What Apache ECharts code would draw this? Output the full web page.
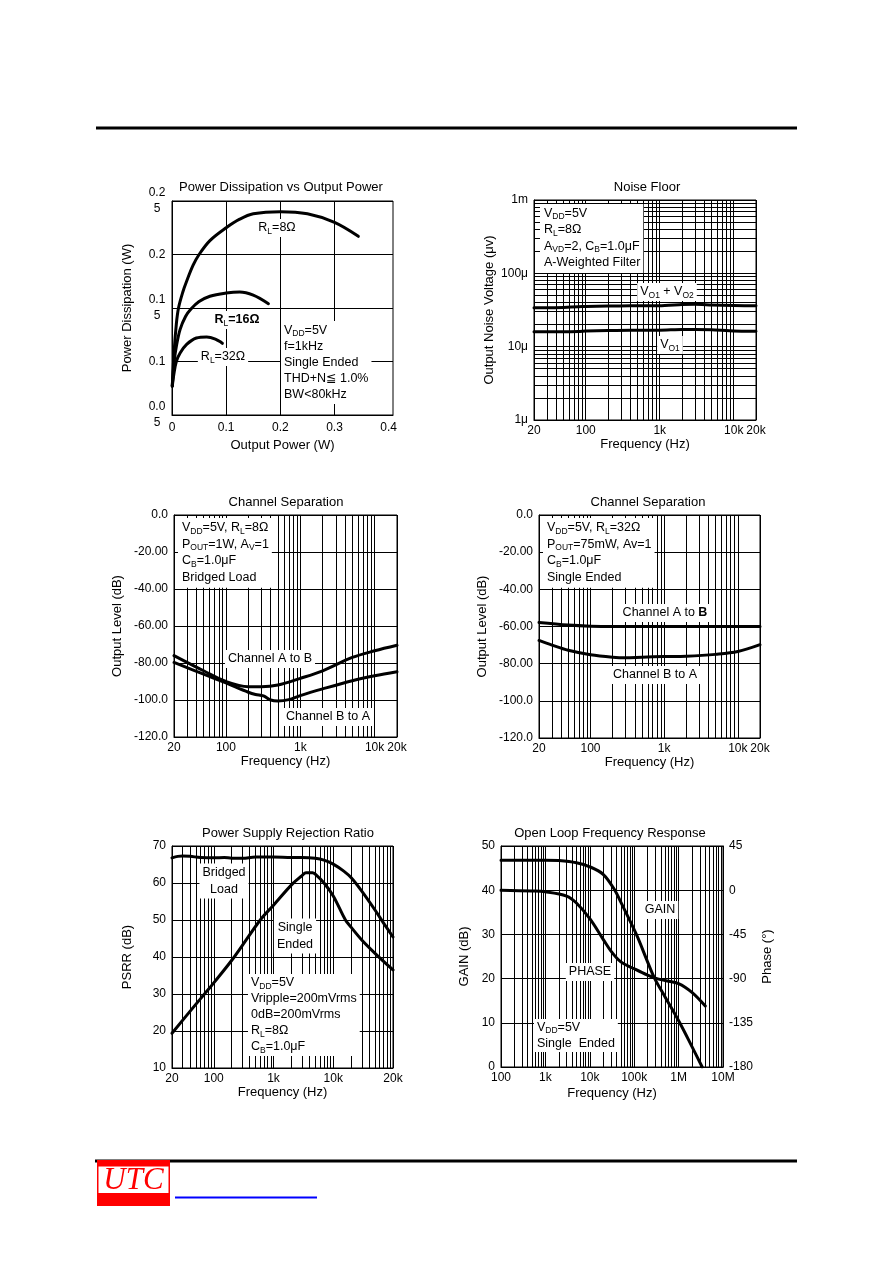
<!DOCTYPE html>
<html><head><meta charset="utf-8">
<script src="https://cdn.jsdelivr.net/npm/echarts@6.0.0/dist/echarts.min.js"></script>
<style>html,body{margin:0;padding:0;background:#fff}#c{width:892px;height:1263px}</style>
</head><body><div id="c"></div>
<script>
// ---------------- DATA ----------------
// Power Dissipation vs Output Power
const pdXTicks = [0, 0.1, 0.2, 0.3, 0.4];
const pdXTickLabels = ['0', '0.1', '0.2', '0.3', '0.4'];
const pdYTicks = [0.05, 0.1, 0.15, 0.2, 0.25];
const pdYTickLabels = ['0.0\n5', '0.1', '0.1\n5', '0.2', '0.2\n5'];
const pd8Power  = [0.0005, 0.004, 0.008, 0.012, 0.02, 0.027, 0.039, 0.05, 0.07, 0.1, 0.125, 0.15, 0.2, 0.25, 0.3, 0.344];
const pd8Diss   = [0.077, 0.11, 0.135, 0.15, 0.165, 0.175, 0.19, 0.2, 0.213, 0.225, 0.233, 0.238, 0.24, 0.238, 0.23, 0.217];
const pd16Power = [0.0005, 0.004, 0.008, 0.015, 0.025, 0.035, 0.05, 0.07, 0.1, 0.125, 0.15, 0.178];
const pd16Diss  = [0.077, 0.1, 0.114, 0.13, 0.142, 0.149, 0.156, 0.161, 0.164, 0.165, 0.162, 0.154];
const pd32Power = [0.0005, 0.004, 0.008, 0.015, 0.027, 0.045, 0.064, 0.08, 0.093];
const pd32Diss  = [0.077, 0.09, 0.1, 0.108, 0.116, 0.122, 0.123, 0.121, 0.117];

// Noise Floor
const audioFreqTicks = [20, 100, 1000, 10000, 20000];
const audioFreqTickLabels = ['20', '100', '1k', '10k', '20k'];
const noiseYTicks = [1, 10, 100, 1000];
const noiseYTickLabels = ['1\u03bc', '10\u03bc', '100\u03bc', '1m'];
const noiseFreq   = [20, 30, 50, 80, 100, 200, 400, 700, 1000, 2000, 3000, 5000, 10000, 20000];
const noiseVo1Vo2 = [34, 34, 34.3, 35, 35.3, 35.8, 36, 36, 36, 37.5, 37.8, 37, 36.3, 36.2];
const noiseVo1    = [16, 16, 16, 16.1, 16.3, 16.6, 16.8, 16.8, 16.8, 17.2, 17.2, 17, 16.4, 16.2];

// Channel Separation (bridged, 8 ohm)
const csYTicks = [-120, -100, -80, -60, -40, -20, 0];
const csYTickLabels = ['-120.0', '-100.0', '-80.00', '-60.00', '-40.00', '-20.00', '0.0'];
const cs8FreqAB = [20, 50, 100, 200, 300, 500, 1000, 2000, 5000, 10000, 20000];
const cs8AB     = [-76, -84.2, -90, -92.8, -92.8, -91.9, -88.3, -84.2, -77, -73.4, -70.4];
const cs8FreqBA = [20, 50, 100, 200, 250, 320, 400, 500, 700, 1000, 2000, 5000, 10000, 20000];
const cs8BA     = [-79.7, -86, -90.8, -95.8, -97, -97.8, -100, -100.5, -99.8, -97.6, -94, -89.6, -86.9, -84.7];

// Channel Separation (single ended, 32 ohm)
const cs32FreqAB = [20, 50, 100, 200, 1000, 5000, 20000];
const cs32AB     = [-57.8, -59.2, -59.8, -60, -60, -60, -60];
const cs32FreqBA = [20, 30, 50, 100, 200, 300, 500, 1000, 2000, 5000, 10000, 20000];
const cs32BA     = [-67.5, -70, -72.8, -75.2, -76.5, -76.8, -76.5, -76.2, -76, -75, -73.5, -69.8];

// Power Supply Rejection Ratio
const psrrFreqTicks = [20, 100, 1000, 10000, 100000];
const psrrFreqTickLabels = ['20', '100', '1k', '10k', '20k'];
const psrrFreqBridged = [20, 25, 30, 40, 60, 100, 150, 200, 300, 500, 1000, 2000, 3000, 5000, 7000, 10000, 15000, 20000, 30000, 50000, 70000, 100000];
const psrrBridged     = [66.8, 67.2, 67.3, 67.2, 66.9, 66.8, 66.9, 66.7, 66.7, 67, 67, 66.9, 66.9, 66.7, 66.2, 65.1, 63.2, 61.4, 57.8, 52.7, 49.1, 45.4];
const psrrFreqSingle  = [20, 50, 70, 100, 220, 600, 1000, 2000, 3000, 3500, 4500, 5000, 7000, 10000, 16000, 20000, 30000, 50000, 100000];
const psrrSingle      = [19.4, 27.2, 30, 33, 40, 50, 54, 59.5, 62, 62.8, 62.8, 62.4, 60, 56.5, 50, 48, 44.6, 41, 36.5];

// Open Loop Frequency Response
const olFreqTicks = [100, 1000, 10000, 100000, 1000000, 10000000];
const olFreqTickLabels = ['100', '1k', '10k', '100k', '1M', '10M'];
const olFreqGain  = [100, 1000, 2000, 5000, 10000, 20000, 36600, 50000, 112000, 200000, 290000, 500000, 1060000, 2000000, 3400000];
const olGain      = [46.8, 46.8, 46.7, 46.2, 45.3, 43.6, 40, 37.3, 30, 23.8, 20, 15.8, 10, 4.6, 0];
const olFreqPhase = [100, 500, 1000, 3000, 5000, 10000, 20000, 30000, 50000, 100000, 200000, 300000, 500000, 1000000, 2000000, 4000000];
const olPhase     = [0, -0.8, -1.6, -6, -13, -29, -50, -62, -73, -80, -86.5, -89.5, -92, -95, -104, -118];

// ---------------- HELPERS ----------------
const FONT = '"Liberation Sans", Arial, "DejaVu Sans", sans-serif';
const BLACK = '#000';
function zip(a, b) { return a.map((v, i) => [v, b[i]]); }
function lookup(ticks, labels, log) {
  return function (v) {
    let best = 0, bd = Infinity;
    ticks.forEach((t, i) => {
      const d = log ? Math.abs(Math.log10(v) - Math.log10(t)) : Math.abs(v - t);
      if (d < bd) { bd = d; best = i; }
    });
    return labels[best];
  };
}
function logGrid(min, max) {
  const out = [];
  for (let d = Math.pow(10, Math.floor(Math.log10(min))); d <= max * 1.0001; d *= 10) {
    for (let k = 1; k < 10; k++) {
      const v = +(k * d).toPrecision(6);
      if (v >= min * 0.9999 && v <= max * 1.0001) out.push(v);
    }
  }
  return out;
}
const axLine = { show: true, onZero: false, lineStyle: { color: BLACK, width: 1 } };
const split = { show: true, lineStyle: { color: BLACK, width: 1, type: 'solid' } };
const nameStyle = { color: BLACK, fontSize: 13, fontFamily: FONT };

function freqAxis(grid, min, max, ticks, labels, gap) {
  return {
    type: 'log', logBase: 10, gridIndex: grid, min: min, max: max,
    axisLine: axLine,
    axisTick: { show: false, customValues: logGrid(min, max) },
    splitLine: split,
    minorTick: { show: false }, minorSplitLine: { show: false },
    axisLabel: { customValues: ticks, formatter: lookup(ticks, labels, true), color: BLACK, fontSize: 12, fontFamily: FONT, margin: 5, hideOverlap: false },
    name: 'Frequency (Hz)', nameLocation: 'middle', nameGap: gap, nameTextStyle: nameStyle
  };
}
function valAxis(grid, min, max, interval, ticks, labels, name, gap, extra) {
  return Object.assign({
    type: 'value', gridIndex: grid, min: min, max: max, interval: interval,
    axisLine: axLine, axisTick: { show: false }, splitLine: split,
    axisLabel: { formatter: lookup(ticks, labels, false), color: BLACK, fontSize: 12, fontFamily: FONT, margin: 6, hideOverlap: false },
    name: name, nameLocation: 'middle', nameGap: gap, nameTextStyle: nameStyle
  }, extra || {});
}
function curve(xi, yi, xs, ys, smooth) {
  return {
    type: 'line', xAxisIndex: xi, yAxisIndex: yi, data: zip(xs, ys),
    showSymbol: false, symbol: 'none', smooth: smooth == null ? 0.35 : smooth,
    lineStyle: { color: BLACK, width: 3, cap: 'round', join: 'round' }, z: 5, silent: true
  };
}
const RICH = {
  s: { fontSize: 8.5, fontFamily: FONT, verticalAlign: 'bottom', lineHeight: 11, fill: BLACK },
  b: { fontSize: 12.5, fontFamily: FONT, fontWeight: 'bold', fill: BLACK }
};
function note(x, y, text, o) {
  o = o || {};
  return {
    type: 'text', z: 1, x: x, y: y,
    style: {
      text: text, fill: BLACK, fontSize: o.fontSize || 12.5, fontFamily: FONT,
      fontWeight: o.bold ? 'bold' : 'normal',
      lineHeight: o.lh || 16, align: o.align || 'left', verticalAlign: o.va || 'top',
      backgroundColor: o.nobg ? null : '#fff', padding: o.pad || [1, 3, 1, 3], rich: RICH
    }
  };
}
function title(x, y, text) {
  return { type: 'text', z: 1, x: x, y: y, style: { text: text, fill: BLACK, fontSize: 13, fontFamily: FONT, align: 'center', verticalAlign: 'middle' } };
}

// ---------------- CHART ----------------
const chart = echarts.init(document.getElementById('c'), null, { renderer: 'canvas', width: 892, height: 1263 });
const gridBase = { show: true, borderColor: BLACK, borderWidth: 1, backgroundColor: 'transparent', containLabel: false, outerBoundsMode: 'none' };
const option = {
  animation: false,
  backgroundColor: '#fff',
  textStyle: { fontFamily: FONT, color: BLACK },
  grid: [
    Object.assign({ left: 172, top: 201, width: 221, height: 214 }, gridBase),
    Object.assign({ left: 534, top: 200, width: 222, height: 220 }, gridBase),
    Object.assign({ left: 174, top: 515, width: 223, height: 222 }, gridBase),
    Object.assign({ left: 539, top: 515, width: 221, height: 223 }, gridBase),
    Object.assign({ left: 172, top: 846, width: 221, height: 222 }, gridBase),
    Object.assign({ left: 501, top: 846, width: 222, height: 221 }, gridBase)
  ],
  xAxis: [
    {
      type: 'value', gridIndex: 0, min: 0, max: 0.408,
      axisLine: axLine,
      axisTick: { show: false, customValues: [0.1, 0.2, 0.3] },
      splitLine: split,
      axisLabel: { customValues: pdXTicks, formatter: lookup(pdXTicks, pdXTickLabels, false), color: BLACK, fontSize: 12, fontFamily: FONT, margin: 7, hideOverlap: false },
      name: 'Output Power (W)', nameLocation: 'middle', nameGap: 24, nameTextStyle: nameStyle
    },
    freqAxis(1, 20, 20000, audioFreqTicks, audioFreqTickLabels, 18),
    freqAxis(2, 20, 20000, audioFreqTicks, audioFreqTickLabels, 18),
    freqAxis(3, 20, 20000, audioFreqTicks, audioFreqTickLabels, 17),
    freqAxis(4, 20, 100000, psrrFreqTicks, psrrFreqTickLabels, 18),
    freqAxis(5, 100, 10000000, olFreqTicks, olFreqTickLabels, 20)
  ],
  yAxis: [
    valAxis(0, 0.05, 0.25, 0.05, pdYTicks, pdYTickLabels, 'Power Dissipation (W)', 38,
      { axisLabel: { formatter: lookup(pdYTicks, pdYTickLabels, false), color: BLACK, fontSize: 12, fontFamily: FONT, margin: 15, align: 'center', lineHeight: 16, hideOverlap: false } }),
    {
      type: 'log', logBase: 10, gridIndex: 1, min: 1, max: 1000,
      axisLine: axLine,
      axisTick: { show: false, customValues: logGrid(1, 1000) },
      splitLine: split, minorTick: { show: false }, minorSplitLine: { show: false },
      axisLabel: { customValues: noiseYTicks, formatter: lookup(noiseYTicks, noiseYTickLabels, true), color: BLACK, fontSize: 12, fontFamily: FONT, margin: 6, hideOverlap: false },
      name: 'Output Noise Voltage (\u03bcv)', nameLocation: 'middle', nameGap: 38, nameTextStyle: nameStyle
    },
    valAxis(2, -120, 0, 20, csYTicks, csYTickLabels, 'Output Level (dB)', 50),
    valAxis(3, -120, 0, 20, csYTicks, csYTickLabels, 'Output Level (dB)', 50),
    valAxis(4, 10, 70, 10, [10, 20, 30, 40, 50, 60, 70], ['10', '20', '30', '40', '50', '60', '70'], 'PSRR (dB)', 38),
    valAxis(5, 0, 50, 10, [0, 10, 20, 30, 40, 50], ['0', '10', '20', '30', '40', '50'], 'GAIN (dB)', 30),
    valAxis(5, -180, 45, 45, [-180, -135, -90, -45, 0, 45], ['-180', '-135', '-90', '-45', '0', '45'], 'Phase (\u00b0)', 38,
      { position: 'right', splitLine: { show: false } })
  ],
  series: [
    curve(0, 0, pd8Power, pd8Diss),
    curve(0, 0, pd16Power, pd16Diss),
    curve(0, 0, pd32Power, pd32Diss),
    curve(1, 1, noiseFreq, noiseVo1Vo2, 0.2),
    curve(1, 1, noiseFreq, noiseVo1, 0.2),
    curve(2, 2, cs8FreqAB, cs8AB),
    curve(2, 2, cs8FreqBA, cs8BA),
    curve(3, 3, cs32FreqAB, cs32AB),
    curve(3, 3, cs32FreqBA, cs32BA),
    curve(4, 4, psrrFreqBridged, psrrBridged),
    curve(4, 4, psrrFreqSingle, psrrSingle),
    curve(5, 5, olFreqGain, olGain),
    curve(5, 6, olFreqPhase, olPhase)
  ],
  graphic: {
    elements: [
      // page rules
      { type: 'rect', z: 1, shape: { x: 96, y: 126.5, width: 701, height: 3 }, style: { fill: BLACK } },
      { type: 'rect', z: 1, shape: { x: 95, y: 1159.5, width: 702, height: 3 }, style: { fill: BLACK } },
      // logo
      { type: 'rect', z: 2, shape: { x: 97, y: 1160, width: 73, height: 46 }, style: { fill: '#ff0000' } },
      { type: 'rect', z: 2, shape: { x: 98.5, y: 1166.5, width: 70, height: 26.5 }, style: { fill: '#fff' } },
      { type: 'text', z: 3, x: 133.5, y: 1180.5, style: { text: 'UTC', fill: '#ff0000', fontSize: 31, fontStyle: 'italic', fontFamily: '"Liberation Serif", "DejaVu Serif", serif', align: 'center', verticalAlign: 'middle' } },
      { type: 'rect', z: 1, shape: { x: 175, y: 1196.5, width: 142, height: 2 }, style: { fill: '#0000ff' } },
      // titles
      title(281, 187, 'Power Dissipation vs Output Power'),
      title(647, 187, 'Noise Floor'),
      title(286, 502, 'Channel Separation'),
      title(648, 502, 'Channel Separation'),
      title(288, 833, 'Power Supply Rejection Ratio'),
      title(610, 833, 'Open Loop Frequency Response'),
      // chart 1 notes
      note(281, 321, 'V{s|DD}=5V\nf=1kHz\nSingle Ended\nTHD+N\u2266 1.0%\nBW<80kHz', { lh: 16.2 }),
      note(277, 228, 'R{s|L}=8\u03a9', { align: 'center', va: 'middle' }),
      note(237, 320, 'R{s|L}=16\u03a9', { align: 'center', va: 'middle', bold: true }),
      note(223, 357, 'R{s|L}=32\u03a9', { align: 'center', va: 'middle' }),
      // chart 2 notes
      note(540, 204, 'V{s|DD}=5V\nR{s|L}=8\u03a9\nA{s|VD}=2, C{s|B}=1.0\u03bcF\nA-Weighted Filter', { lh: 16.5, pad: [1, 3, 2, 4] }),
      note(667, 292, 'V{s|O1} + V{s|O2}', { align: 'center', va: 'middle' }),
      note(670, 345, 'V{s|O1}', { align: 'center', va: 'middle' }),
      // chart 3 notes
      note(178, 518, 'V{s|DD}=5V, R{s|L}=8\u03a9\nP{s|OUT}=1W, A{s|V}=1\nC{s|B}=1.0\u03bcF\nBridged Load', { lh: 16.7, pad: [1, 3, 2, 4] }),
      note(270, 659, 'Channel A to B', { align: 'center', va: 'middle' }),
      note(328, 717, 'Channel B to A', { align: 'center', va: 'middle' }),
      // chart 4 notes
      note(543, 518, 'V{s|DD}=5V, R{s|L}=32\u03a9\nP{s|OUT}=75mW, Av=1\nC{s|B}=1.0\u03bcF\nSingle Ended', { lh: 16.7, pad: [1, 3, 2, 4] }),
      note(665, 613, 'Channel A to {b|B}', { align: 'center', va: 'middle' }),
      note(655, 675, 'Channel B to A', { align: 'center', va: 'middle' }),
      // chart 5 notes
      note(224, 881, 'Bridged\nLoad', { align: 'center', va: 'middle', lh: 16.5 }),
      note(295, 936, 'Single\nEnded', { align: 'center', va: 'middle', lh: 16.5 }),
      note(248, 974, 'V{s|DD}=5V\nVripple=200mVrms\n0dB=200mVrms\nR{s|L}=8\u03a9\nC{s|B}=1.0\u03bcF', { lh: 16 }),
      // chart 6 notes
      note(660, 910, 'GAIN', { align: 'center', va: 'middle' }),
      note(590, 972, 'PHASE', { align: 'center', va: 'middle' }),
      note(534, 1019, 'V{s|DD}=5V\nSingle  Ended', { lh: 15.5 })
    ]
  }
};
chart.setOption(option);
</script></body></html>
